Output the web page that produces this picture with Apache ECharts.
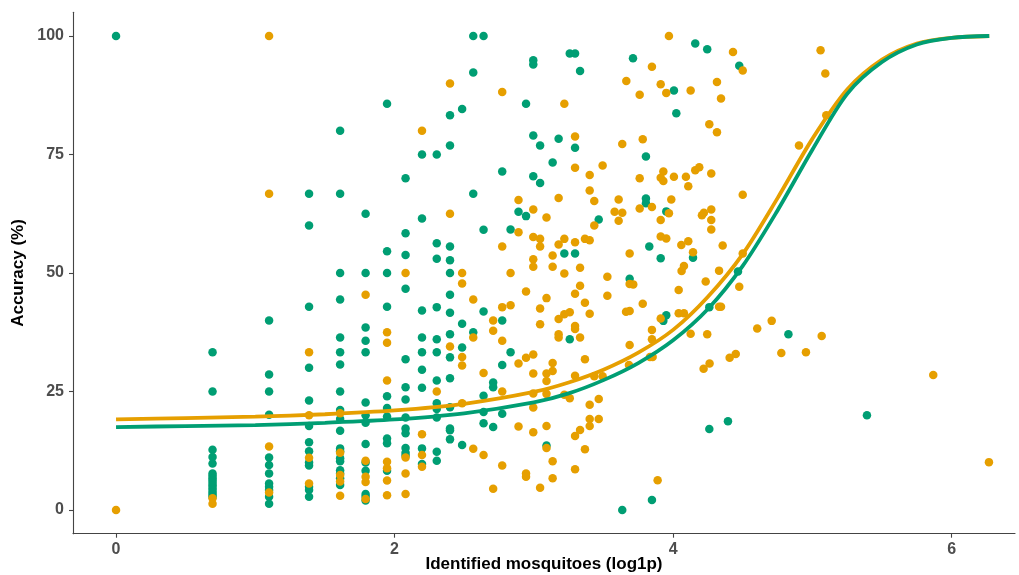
<!DOCTYPE html>
<html>
<head>
<meta charset="utf-8">
<script src="https://cdn.jsdelivr.net/npm/echarts@6/dist/echarts.min.js"></script>
<style>html,body{margin:0;padding:0;background:#fff}#c{width:1019px;height:575px}</style>
</head>
<body>
<div id="c"></div>
<script>
// x = log1p(identified mosquitoes), y = accuracy (%)
const greenPoints = [
[0,100],
[0.693,33.3],[0.693,25.0],[0.693,12.7],[0.693,11.2],[0.693,9.8],[0.693,7.7],[0.693,7.2],[0.693,6.7],[0.693,6.2],[0.693,5.7],[0.693,5.2],[0.693,4.7],[0.693,4.2],[0.693,3.7],[0.693,3.2],[0.693,2.8],
[1.099,40.0],[1.099,28.6],[1.099,25.0],[1.099,20.1],[1.099,11.1],[1.099,9.5],[1.099,7.7],[1.099,5.6],[1.099,4.9],[1.099,4.2],[1.099,2.8],[1.099,1.3],
[1.386,66.7],[1.386,60.0],[1.386,42.9],[1.386,30.0],[1.386,23.1],[1.386,17.7],[1.386,14.3],[1.386,12.4],[1.386,10.0],[1.386,9.4],[1.386,4.9],[1.386,4.2],[1.386,2.8],
[1.609,80.0],[1.609,66.7],[1.609,50.0],[1.609,44.4],[1.609,36.4],[1.609,33.3],[1.609,30.7],[1.609,25.0],[1.609,21.1],[1.609,19.2],[1.609,16.7],[1.609,13.0],[1.609,12.4],[1.609,10.9],[1.609,10.3],[1.609,8.4],[1.609,7.7],[1.609,6.7],[1.609,5.3],
[1.792,62.5],[1.792,50.0],[1.792,38.5],[1.792,35.7],[1.792,33.3],[1.792,22.7],[1.792,20.0],[1.792,18.4],[1.792,13.9],[1.792,10.0],[1.792,8.3],[1.792,3.4],[1.792,2.8],[1.792,2.0],
[1.946,85.7],[1.946,54.6],[1.946,50.0],[1.946,42.9],[1.946,24.0],[1.946,21.5],[1.946,19.7],[1.946,15.1],[1.946,14.1],[1.946,8.3],
[2.079,70.0],[2.079,58.4],[2.079,53.8],[2.079,46.7],[2.079,31.8],[2.079,25.9],[2.079,23.3],[2.079,19.5],[2.079,17.2],[2.079,16.2],[2.079,13.1],[2.079,12.1],[2.079,11.5],
[2.197,75.0],[2.197,61.5],[2.197,42.1],[2.197,36.4],[2.197,33.3],[2.197,29.6],[2.197,25.8],[2.197,13.0],[2.197,9.7],
[2.303,75.0],[2.303,56.3],[2.303,53.0],[2.303,42.8],[2.303,36.0],[2.303,33.3],[2.303,27.3],[2.303,22.5],[2.303,21.3],[2.303,19.5],[2.303,12.3],[2.303,10.4],
[2.398,83.3],[2.398,76.9],[2.398,55.6],[2.398,52.7],[2.398,50.0],[2.398,45.4],[2.398,41.6],[2.398,37.1],[2.398,32.2],[2.398,27.8],[2.398,21.7],[2.398,17.2],[2.398,16.8],[2.398,14.9],
[2.485,84.6],[2.485,39.3],[2.485,34.3],[2.485,13.7],
[2.565,100],[2.565,92.3],[2.565,66.7],[2.565,37.5],
[2.639,100],[2.639,59.1],[2.639,41.9],[2.639,24.1],[2.639,20.7],[2.639,18.3],
[2.708,26.9],[2.708,25.9],[2.708,17.5],
[2.773,71.4],[2.773,40.0],[2.773,30.6],[2.773,20.3],
[2.833,59.2],[2.833,33.3],
[2.890,62.9],
[2.944,85.7],[2.944,62.0],
[2.996,94.9],[2.996,94.0],[2.996,79.0],[2.996,70.4],
[3.045,76.9],[3.045,69.0],
[3.091,13.6],[3.135,73.3],[3.178,78.3],[3.219,54.1],
[3.258,96.3],[3.258,36.0],
[3.296,96.3],[3.296,76.4],[3.296,54.1],
[3.332,92.6],[3.466,61.3],[3.635,0],[3.688,48.8],[3.712,95.3],
[3.805,74.6],[3.805,65.7],[3.805,64.7],[3.829,55.6],[3.848,2.1],
[3.911,53.1],[3.930,39.9],[3.951,63.0],[3.951,41.1],
[4.006,88.5],[4.023,83.7],[4.143,53.2],[4.159,98.4],[4.245,97.2],
[4.260,42.8],[4.260,17.1],[4.394,18.7],[4.466,50.3],[4.475,93.7],
[4.828,37.1],[5.392,20.0]
];
const orangePoints = [
[0,0],
[0.693,2.5],[0.693,1.3],
[1.099,100],[1.099,66.7],[1.099,13.4],[1.099,3.7],
[1.386,33.3],[1.386,20.0],[1.386,11.0],[1.386,5.6],
[1.609,20.4],[1.609,12.1],[1.609,7.4],[1.609,6.0],[1.609,3.0],
[1.792,45.4],[1.792,10.4],[1.792,7.0],[1.792,5.9],[1.792,2.3],
[1.946,37.5],[1.946,35.3],[1.946,27.3],[1.946,10.2],[1.946,8.8],[1.946,6.2],[1.946,3.1],
[2.079,50.0],[2.079,11.1],[2.079,7.7],[2.079,3.4],
[2.197,80.0],[2.197,16.0],[2.197,11.6],[2.197,9.1],
[2.303,25.0],
[2.398,90.0],[2.398,62.5],[2.398,34.5],
[2.485,50.0],[2.485,47.8],[2.485,32.3],[2.485,30.5],[2.485,22.5],
[2.565,44.4],[2.565,36.4],[2.565,12.9],
[2.639,28.9],[2.639,11.6],
[2.708,40.0],[2.708,37.8],[2.708,4.5],
[2.773,88.2],[2.773,55.6],[2.773,42.8],[2.773,35.7],[2.773,25.0],[2.773,9.4],
[2.833,50.0],[2.833,43.2],
[2.890,65.4],[2.890,58.6],[2.890,30.9],[2.890,17.6],
[2.944,46.1],[2.944,32.1],[2.944,7.7],[2.944,7.0],
[2.996,63.4],[2.996,57.6],[2.996,52.9],[2.996,51.3],[2.996,32.8],[2.996,28.8],[2.996,24.6],[2.996,21.6],[2.996,16.4],
[3.045,57.2],[3.045,55.6],[3.045,42.5],[3.045,39.2],[3.045,4.7],
[3.091,61.7],[3.091,44.7],[3.091,28.8],[3.091,27.2],[3.091,24.5],[3.091,17.7],[3.091,13.1],
[3.135,53.7],[3.135,51.3],[3.135,31.0],[3.135,29.3],[3.135,10.3],[3.135,6.7],
[3.178,65.8],[3.178,56.0],[3.178,40.3],[3.178,37.1],[3.178,36.4],
[3.219,85.7],[3.219,57.2],[3.219,49.9],[3.219,41.3],[3.219,24.3],
[3.258,41.7],[3.258,23.6],
[3.296,78.8],[3.296,72.2],[3.296,56.5],[3.296,45.6],[3.296,38.8],[3.296,38.2],[3.296,28.3],[3.296,15.6],[3.296,8.6],
[3.332,51.1],[3.332,47.3],[3.332,36.4],[3.332,16.9],
[3.367,57.2],[3.367,43.7],[3.367,31.8],[3.367,12.8],
[3.401,70.7],[3.401,67.4],[3.401,56.9],[3.401,41.4],[3.401,22.2],[3.401,19.2],[3.401,17.7],
[3.434,65.2],[3.434,60.0],[3.434,28.2],
[3.466,23.4],[3.466,19.2],
[3.494,72.7],[3.494,28.2],
[3.528,49.2],[3.528,45.2],
[3.580,62.9],[3.609,65.5],[3.609,61.0],[3.635,77.2],[3.635,62.7],
[3.662,41.8],[3.664,90.5],[3.683,30.6],
[3.688,54.1],[3.688,47.7],[3.688,42.0],[3.688,34.8],[3.714,47.6],
[3.760,87.6],[3.760,70.0],[3.760,63.6],[3.782,78.2],[3.782,43.5],
[3.834,32.3],[3.848,93.5],[3.848,63.9],[3.848,38.0],[3.848,36.0],[3.853,32.3],[3.889,6.3],
[3.911,89.8],[3.911,70.1],[3.911,61.2],[3.911,57.7],[3.911,40.4],
[3.930,71.4],[3.930,69.4],[3.951,88.0],[3.951,57.3],
[3.970,100],[3.970,62.6],[3.987,65.5],[4.006,70.3],
[4.040,46.4],[4.040,41.5],[4.059,55.9],[4.061,50.4],[4.078,51.5],[4.078,41.5],
[4.092,70.3],[4.109,68.3],[4.109,56.7],[4.126,88.5],[4.126,37.2],
[4.143,54.4],[4.159,71.7],[4.188,72.3],[4.207,62.2],[4.219,29.8],[4.221,62.7],
[4.234,48.2],[4.245,37.1],[4.260,81.4],[4.262,30.9],
[4.274,71.0],[4.274,63.4],[4.274,61.2],[4.274,59.2],
[4.315,90.3],[4.315,79.7],[4.330,50.5],[4.330,42.9],[4.344,86.8],[4.344,42.9],
[4.356,55.8],[4.406,32.1],[4.430,96.6],[4.450,32.9],[4.475,47.1],
[4.500,92.7],[4.500,66.5],[4.500,54.1],
[4.604,38.3],[4.708,39.9],[4.777,33.1],[4.904,76.9],[4.954,33.3],
[5.059,97.0],[5.067,36.7],[5.093,92.1],[5.100,83.3],[5.868,28.5],[6.268,10.1]
];
// fitted curves
const curveX      = [0,   0.5, 1,   1.5, 2,   2.5, 3,   3.25,3.5, 3.75,4,   4.25,4.5, 4.75,5,   5.25,5.5, 5.75,6,   6.27];
const orangeCurve = [19.1,19.4,19.7,20.2,21.0,22.4,24.9,26.9,29.6,33.2,38.0,45.0,54.0,65.8,78.3,88.7,95.0,98.4,99.6,100];
const greenCurve  = [17.5,17.7,17.9,18.4,19.1,20.4,22.7,24.6,27.4,31.0,35.8,42.4,51.5,63.2,76.0,87.8,94.5,98.2,99.6,100];
const xTicks = [0, 2, 4, 6];
const yTicks = [0, 25, 50, 75, 100];

const GREEN = '#009E73', ORANGE = '#E69F00';
const FONT = 'Liberation Sans, Arial, sans-serif';
const chart = echarts.init(document.getElementById('c'), null, {renderer: 'canvas'});
const zip = (xs, ys) => xs.map((x, i) => [x, ys[i]]);
chart.setOption({
  animation: false,
  backgroundColor: '#fff',
  grid: {left: 73, right: 4, top: 12.3, bottom: 41.3, containLabel: false, outerBoundsMode: 'none'},
  xAxis: {
    type: 'value', min: -0.309, max: 6.455,
    name: 'Identified mosquitoes (log1p)', nameLocation: 'middle', nameGap: 22, nameMoveOverlap: false,
    nameTextStyle: {fontFamily: FONT, fontWeight: 'bold', fontSize: 17, color: '#000'},
    axisLine: {show: true, onZero: false, lineStyle: {color: '#444', width: 1.1}},
    axisTick: {show: true, length: 4, customValues: xTicks, lineStyle: {color: '#444', width: 1.1}},
    axisLabel: {customValues: xTicks, margin: 8, fontFamily: FONT, fontWeight: 'bold', fontSize: 16, color: '#4D4D4D'},
    splitLine: {show: false}
  },
  yAxis: {
    type: 'value', min: -5, max: 105,
    name: 'Accuracy (%)', nameLocation: 'middle', nameGap: 46, nameMoveOverlap: false,
    nameTextStyle: {fontFamily: FONT, fontWeight: 'bold', fontSize: 17, color: '#000'},
    axisLine: {show: true, onZero: false, lineStyle: {color: '#444', width: 1.1}},
    axisTick: {show: true, length: 4, customValues: yTicks, lineStyle: {color: '#444', width: 1.1}},
    axisLabel: {customValues: yTicks, margin: 9, fontFamily: FONT, fontWeight: 'bold', fontSize: 16, color: '#4D4D4D'},
    splitLine: {show: false}
  },
  series: [
    {type: 'scatter', data: greenPoints, symbolSize: 8.5, itemStyle: {color: GREEN, opacity: 1}, z: 2},
    {type: 'scatter', data: orangePoints, symbolSize: 8.5, itemStyle: {color: ORANGE, opacity: 1}, z: 2},
    {type: 'line', data: zip(curveX, orangeCurve), showSymbol: false, smooth: 0.3,
     lineStyle: {color: ORANGE, width: 3.8}, z: 3},
    {type: 'line', data: zip(curveX, greenCurve), showSymbol: false, smooth: 0.3,
     lineStyle: {color: GREEN, width: 3.8}, z: 4}
  ]
});
</script>
</body>
</html>
